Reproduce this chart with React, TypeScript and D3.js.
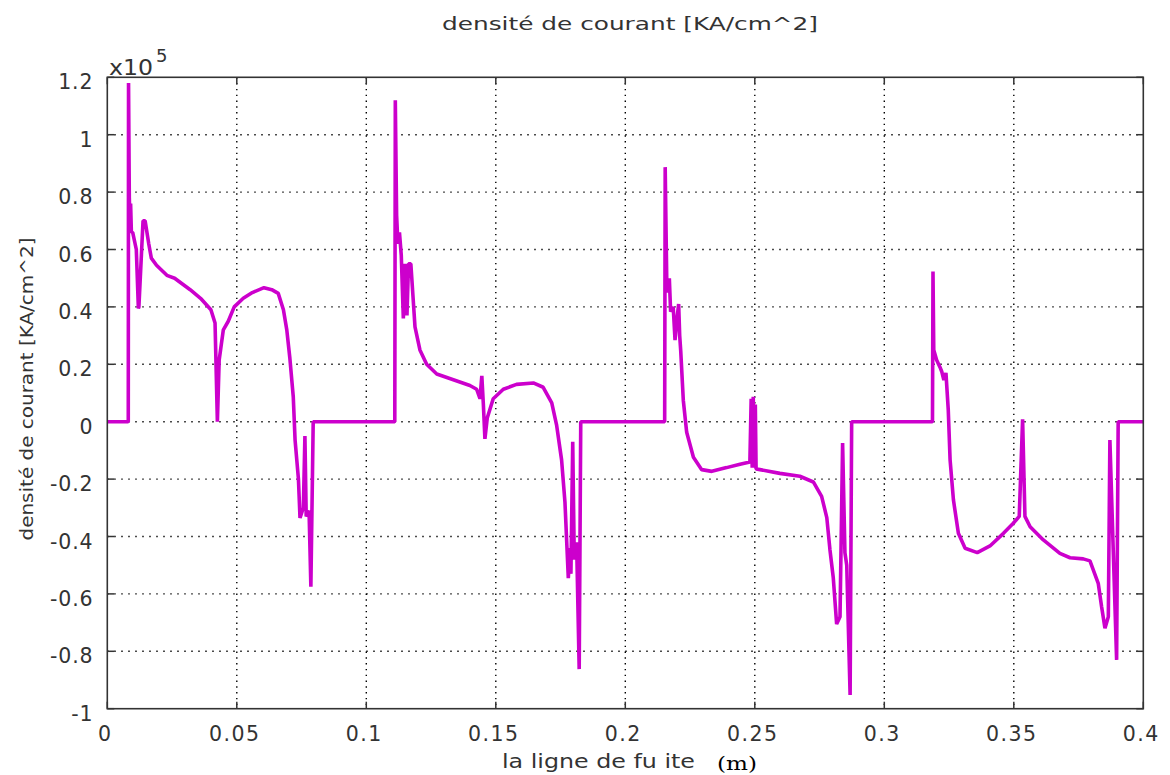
import React from "react";
import * as d3 from "d3";

const xTicks = [0, 0.05, 0.1, 0.15, 0.2, 0.25, 0.3, 0.35, 0.4];
const xTickLabels = ["0", "0.05", "0.1", "0.15", "0.2", "0.25", "0.3", "0.35", "0.4"];
const yTicks = [-1, -0.8, -0.6, -0.4, -0.2, 0, 0.2, 0.4, 0.6, 0.8, 1, 1.2];
const yTickLabels = ["-1", "-0.8", "-0.6", "-0.4", "-0.2", "0", "0.2", "0.4", "0.6", "0.8", "1", "1.2"];

// position along the leakage line (m)
const xValues = [
  0, 0.0081, 0.0082, 0.0085, 0.0088, 0.009, 0.0093, 0.0098, 0.0112, 0.012, 0.0122, 0.0138, 0.0146, 0.016, 0.017, 0.019,
  0.023, 0.026, 0.032, 0.036, 0.04, 0.0416, 0.0425, 0.0432, 0.0448, 0.0467, 0.049, 0.0525, 0.056, 0.0605, 0.0635, 0.066,
  0.068, 0.0693, 0.0705, 0.0718, 0.0725, 0.0738, 0.0744, 0.0757, 0.0763, 0.0768, 0.0779, 0.0786, 0.0795,
  0.111, 0.1112, 0.1117, 0.1122, 0.1128, 0.1135, 0.1143, 0.115, 0.1157, 0.1163, 0.1172, 0.1188, 0.1207, 0.1233, 0.1272,
  0.1336, 0.14, 0.1426, 0.1439, 0.1446, 0.1452, 0.1458, 0.1467, 0.149, 0.1529, 0.158, 0.1645, 0.1683, 0.1716, 0.1735,
  0.1754, 0.1767, 0.178, 0.1786, 0.179, 0.1797, 0.1803, 0.1812, 0.1822, 0.1828,
  0.2152, 0.2154, 0.216, 0.2165, 0.217, 0.2175, 0.2185, 0.2192, 0.2201, 0.2206, 0.221, 0.2214, 0.2224, 0.2237, 0.2263,
  0.2295, 0.2334, 0.2391, 0.2443, 0.2481, 0.2486, 0.249, 0.2494, 0.2498, 0.2502, 0.2505, 0.252, 0.2597, 0.2674, 0.2726,
  0.2758, 0.2778, 0.279, 0.2803, 0.2816, 0.2829, 0.2839, 0.2848, 0.2855, 0.2868, 0.2874,
  0.3186, 0.3188, 0.3191, 0.3202, 0.3215, 0.3222, 0.323, 0.3238, 0.3247, 0.3254, 0.3267, 0.3286, 0.3312, 0.3359, 0.3408,
  0.346, 0.3498, 0.3521, 0.3534, 0.3543, 0.3563, 0.3614, 0.3678, 0.3717, 0.3768, 0.3794, 0.3826, 0.3839, 0.3852, 0.3865,
  0.3871, 0.3884, 0.3897, 0.3903, 0.4,
];

// current density (x1e5)
const yValues = [
  0, 0, 1.18, 0.78, 0.68, 0.76, 0.66, 0.66, 0.6, 0.395, 0.4, 0.7, 0.7, 0.62, 0.57, 0.545,
  0.51, 0.5, 0.46, 0.43, 0.39, 0.344, 0.0, 0.215, 0.32, 0.35, 0.4, 0.43, 0.45, 0.467, 0.46, 0.447,
  0.39, 0.32, 0.22, 0.087, -0.064, -0.2, -0.335, -0.3, -0.05, -0.33, -0.31, -0.575, 0,
  0, 1.12, 0.72, 0.62, 0.66, 0.58, 0.36, 0.55, 0.37, 0.55, 0.55, 0.33, 0.25, 0.2, 0.166,
  0.146, 0.126, 0.113, 0.08, 0.16, 0.06, -0.06, 0.013, 0.08, 0.113, 0.13, 0.135, 0.12, 0.066, -0.013,
  -0.133, -0.28, -0.545, -0.44, -0.53, -0.07, -0.48, -0.42, -0.862, 0,
  0, 0.887, 0.494, 0.45, 0.5, 0.383, 0.4, 0.284, 0.37, 0.41, 0.3, 0.247, 0.074, -0.037, -0.124,
  -0.167, -0.173, -0.16, -0.148, -0.14, 0.08, -0.16, 0.087, -0.16, 0.06, -0.165, -0.167, -0.18, -0.19, -0.21,
  -0.26, -0.334, -0.445, -0.544, -0.705, -0.68, -0.074, -0.457, -0.5, -0.952, 0,
  0, 0.523, 0.25, 0.215, 0.19, 0.174, 0.145, 0.17, 0.04, -0.133, -0.273, -0.389, -0.441, -0.456, -0.433,
  -0.389, -0.354, -0.33, 0.008, -0.33, -0.366, -0.412, -0.459, -0.474, -0.478, -0.485, -0.563, -0.645, -0.72, -0.68,
  -0.064, -0.45, -0.83, 0, 0,
];

const W = 1170;
const H = 775;
const L = 107.3;
const R = 1143.3;
const T = 77.3;
const B = 708.7;

export default function App() {
  const x = d3.scaleLinear().domain([0, 0.4]).range([L, R]);
  const y = d3.scaleLinear().domain([-1, 1.2]).range([B, T]);
  const pts: [number, number][] = xValues.map((v, i) => [v, yValues[i]]);
  const line = d3
    .line<[number, number]>()
    .x((d) => x(d[0]))
    .y((d) => y(d[1]));
  const font = "'DejaVu Sans', sans-serif";
  const txt = "#333";
  return (
    <svg
      width={W}
      height={H}
      style={{ position: "absolute", left: 0, top: 0, background: "#fff" }}
      xmlns="http://www.w3.org/2000/svg"
    >
      <rect x={0} y={0} width={W} height={H} fill="#fff" />
      {/* grid */}
      {xTicks.slice(1, -1).map((t) => (
        <line
          key={"gx" + t}
          x1={x(t)}
          x2={x(t)}
          y1={T}
          y2={B}
          stroke="#000"
          strokeWidth={1.4}
          strokeDasharray="1.4,4.4"
        />
      ))}
      {yTicks.slice(1, -1).map((t) => (
        <line
          key={"gy" + t}
          x1={L}
          x2={R}
          y1={y(t)}
          y2={y(t)}
          stroke="#000"
          strokeWidth={1.4}
          strokeDasharray="1.4,5.6"
        />
      ))}
      {/* ticks */}
      {xTicks.map((t) => (
        <g key={"tx" + t}>
          <line x1={x(t)} x2={x(t)} y1={T} y2={T + 7} stroke="#333" strokeWidth={1.5} />
          <line x1={x(t)} x2={x(t)} y1={B} y2={B - 7} stroke="#333" strokeWidth={1.5} />
        </g>
      ))}
      {yTicks.map((t) => (
        <g key={"ty" + t}>
          <line x1={L} x2={L + 7} y1={y(t)} y2={y(t)} stroke="#333" strokeWidth={1.5} />
          <line x1={R} x2={R - 7} y1={y(t)} y2={y(t)} stroke="#333" strokeWidth={1.5} />
        </g>
      ))}
      {/* data */}
      <path
        d={line(pts) || ""}
        fill="none"
        stroke="#cc00cc"
        strokeWidth={3.6}
        strokeLinejoin="bevel"
      />
      {/* frame */}
      <rect x={L} y={T} width={R - L} height={B - T} fill="none" stroke="#333" strokeWidth={1.6} />
      {/* tick labels */}
      {yTicks.map((t, i) => (
        <text
          key={"ly" + t}
          x={L - 14}
          y={y(t) + 12}
          textAnchor="end"
          fontFamily={font}
          fontSize={20.5}
          letterSpacing={0.8}
          fill={txt}
        >
          {yTickLabels[i]}
        </text>
      ))}
      {xTicks.map((t, i) => (
        <text
          key={"lx" + t}
          x={x(t) - 2}
          y={741}
          textAnchor="middle"
          fontFamily={font}
          fontSize={20.5}
          letterSpacing={1.5}
          fill={txt}
        >
          {xTickLabels[i]}
        </text>
      ))}
      {/* multiplier */}
      <text
        x={109}
        y={75}
        fontFamily={font}
        fontSize={20.5}
        fill={txt}
        textLength={44}
        lengthAdjust="spacingAndGlyphs"
      >
        x10
      </text>
      <text x={156} y={62} fontFamily={font} fontSize={18} fill={txt}>
        5
      </text>
      {/* title */}
      <text
        x={630}
        y={29.5}
        textAnchor="middle"
        fontFamily={font}
        fontSize={17}
        fill={txt}
        textLength={376}
        lengthAdjust="spacingAndGlyphs"
      >
        densité de courant  [KA/cm^2]
      </text>
      {/* y label */}
      <text
        transform={`translate(33,389) rotate(-90)`}
        textAnchor="middle"
        fontFamily={font}
        fontSize={18}
        fill={txt}
        textLength={303}
        lengthAdjust="spacingAndGlyphs"
      >
        densité de courant  [KA/cm^2]
      </text>
      {/* x label */}
      <text
        x={502}
        y={768}
        fontFamily={font}
        fontSize={19}
        fill={txt}
        textLength={193}
        lengthAdjust="spacingAndGlyphs"
      >
        la ligne de fu ite
      </text>
      <text
        x={717}
        y={770}
        fontFamily="'DejaVu Serif', 'Liberation Serif', serif"
        fontSize={18}
        fill="#000"
        textLength={40}
        lengthAdjust="spacingAndGlyphs"
      >
        (m)
      </text>
    </svg>
  );
}
